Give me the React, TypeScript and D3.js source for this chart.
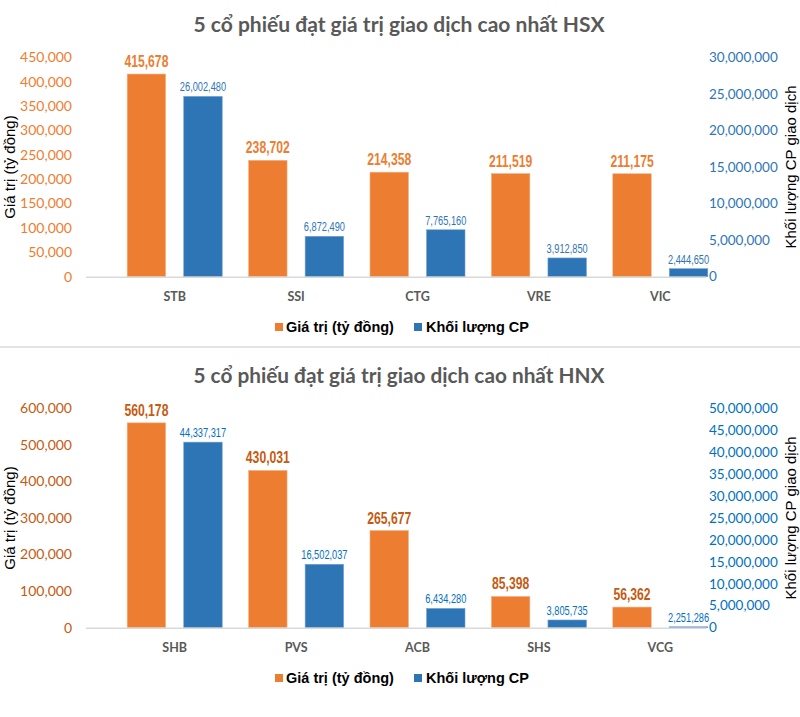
import React from "react";
import * as d3 from "d3";

// ---------- data ----------
const hsxTitle = "5 cổ phiếu đạt giá trị giao dịch cao nhất HSX";
const hsxCategories = ["STB", "SSI", "CTG", "VRE", "VIC"];
const hsxValues = [415678, 238702, 214358, 211519, 211175];
const hsxVolumes = [26002480, 6872490, 7765160, 3912850, 2444650];
const hsxValueTicks = [0, 50000, 100000, 150000, 200000, 250000, 300000, 350000, 400000, 450000];
const hsxVolumeTicks = [0, 5000000, 10000000, 15000000, 20000000, 25000000, 30000000];
// in the reference the volume bars sit slightly below their own axis (offset in shares)
const hsxVolumeOffset = 1350000;

const hnxTitle = "5 cổ phiếu đạt giá trị giao dịch cao nhất HNX";
const hnxCategories = ["SHB", "PVS", "ACB", "SHS", "VCG"];
const hnxValues = [560178, 430031, 265677, 85398, 56362];
const hnxVolumes = [44337317, 16502037, 6434280, 3805735, 2251286];
const hnxValueTicks = [0, 100000, 200000, 300000, 400000, 500000, 600000];
const hnxVolumeTicks = [0, 5000000, 10000000, 15000000, 20000000, 25000000, 30000000, 35000000, 40000000, 45000000, 50000000];
const hnxVolumeOffset = 2050000;

const legendValue = "Giá trị (tỷ đồng)";
const legendVolume = "Khối lượng CP";
const leftAxisTitle = "Giá trị (tỷ đồng)";
const rightAxisTitle = "Khối lượng CP giao dịch";

const ORANGE = "#ED7D31";
const BLUE = "#2E75B6";

const fmt = d3.format(",");

type ChartProps = {
  oy: number;
  title: string;
  categories: string[];
  values: number[];
  volumes: number[];
  valueTicks: number[];
  volumeTicks: number[];
  volumeOffset: number;
  valueText: string;
  volumeText: string;
};

function Chart(p: ChartProps) {
  const base = p.oy + 276.7;
  const top = p.oy + 57.3;
  const x = d3.scaleBand<string>().domain(p.categories).range([114, 721]).padding(0);
  const xi = d3.scaleBand<string>().domain(["value", "volume"]).range([-47.5, 47.5]).paddingInner(0.32);
  const yL = d3.scaleLinear().domain([0, d3.max(p.valueTicks)!]).range([base, top]);
  const yR = d3.scaleLinear().domain([0, d3.max(p.volumeTicks)!]).range([base, top]);
  const yRBar = d3
    .scaleLinear()
    .domain([p.volumeOffset, d3.max(p.volumeTicks)! + p.volumeOffset])
    .range([base, top]);
  const bw = xi.bandwidth();
  const midY = (base + top) / 2;
  const arial = "'Liberation Sans', Arial, sans-serif";
  const calib = "Lato, 'Open Sans', sans-serif";
  return (
    <g>
      <text x={399} y={p.oy + 32} textAnchor="middle" fontFamily={calib} fontWeight={700} fontSize={21} fill="#595959" textLength={411} lengthAdjust="spacingAndGlyphs">
        {p.title}
      </text>
      {p.valueTicks.map((t) => (
        <text key={"l" + t} x={72} y={yL(t)} dy="0.35em" textAnchor="end" fontFamily={calib} fontSize={14} fill={p.valueText}>
          {fmt(t)}
        </text>
      ))}
      {p.volumeTicks.map((t) => (
        <text key={"r" + t} x={709} y={yR(t)} dy="0.35em" textAnchor="start" fontFamily={calib} fontSize={13.5} fill={p.volumeText}>
          {fmt(t)}
        </text>
      ))}
      <text transform={`translate(15,${midY}) rotate(-90)`} textAnchor="middle" fontFamily={arial} fontSize={15} fill="#000">
        {leftAxisTitle}
      </text>
      <text transform={`translate(796,${midY}) rotate(-90)`} textAnchor="middle" fontFamily={arial} fontSize={15} fill="#000">
        {rightAxisTitle}
      </text>
      {p.categories.map((c, i) => {
        const cx = x(c)! + x.bandwidth() / 2;
        const xo = cx + xi("value")!;
        const xb = cx + xi("volume")!;
        const yo = yL(p.values[i]);
        const yb = Math.min(base, yRBar(p.volumes[i]));
        return (
          <g key={c}>
            <rect x={xo} y={yo} width={bw} height={base - yo} fill={ORANGE} stroke="#F4B183" strokeWidth={0.6} />
            <rect x={xb} y={yb} width={bw} height={base - yb} fill={BLUE} stroke="#6FA0D3" strokeWidth={0.6} />
            <text transform={`translate(${xo + bw / 2},${yo - 7}) scale(0.76,1)`} textAnchor="middle" fontFamily={arial} fontWeight={700} fontSize={16} fill={p.valueText}>
              {fmt(p.values[i])}
            </text>
            <text transform={`translate(${xb + bw / 2},${yb - 5}) scale(0.74,1)`} textAnchor="middle" fontFamily={arial} fontSize={12.5} fill={p.volumeText}>
              {fmt(p.volumes[i])}
            </text>
            <text x={cx} y={p.oy + 297} dy="0.35em" textAnchor="middle" fontFamily={calib} fontWeight={700} fontSize={12.5} fill="#595959">
              {c}
            </text>
          </g>
        );
      })}
      <line x1={86} x2={706} y1={base + 0.5} y2={base + 0.5} stroke="#D9D9D9" strokeWidth={1.5} />
      <rect x={275} y={p.oy + 323} width={8} height={8} fill={ORANGE} />
      <text x={286} y={p.oy + 327} dy="0.35em" fontFamily={arial} fontWeight={700} fontSize={14.5} fill="#000">
        {legendValue}
      </text>
      <rect x={414} y={p.oy + 323} width={8} height={8} fill={BLUE} />
      <text x={426} y={p.oy + 327} dy="0.35em" fontFamily={arial} fontWeight={700} fontSize={14.5} fill="#000">
        {legendVolume}
      </text>
    </g>
  );
}

export default function App() {
  return (
    <svg width={800} height={717} style={{ position: "absolute", left: 0, top: 0, background: "#fff" }}>
      <rect width={800} height={717} fill="#fff" />
      <Chart
        oy={0}
        title={hsxTitle}
        categories={hsxCategories}
        values={hsxValues}
        volumes={hsxVolumes}
        valueTicks={hsxValueTicks}
        volumeTicks={hsxVolumeTicks}
        volumeOffset={hsxVolumeOffset}
        valueText="#ED7D31"
        volumeText="#2E75B6"
      />
      <line x1={0} x2={800} y1={347} y2={347} stroke="#E3E3E3" strokeWidth={2} />
      <Chart
        oy={351}
        title={hnxTitle}
        categories={hnxCategories}
        values={hnxValues}
        volumes={hnxVolumes}
        valueTicks={hnxValueTicks}
        volumeTicks={hnxVolumeTicks}
        volumeOffset={hnxVolumeOffset}
        valueText="#C55A11"
        volumeText="#0070C0"
      />
    </svg>
  );
}
